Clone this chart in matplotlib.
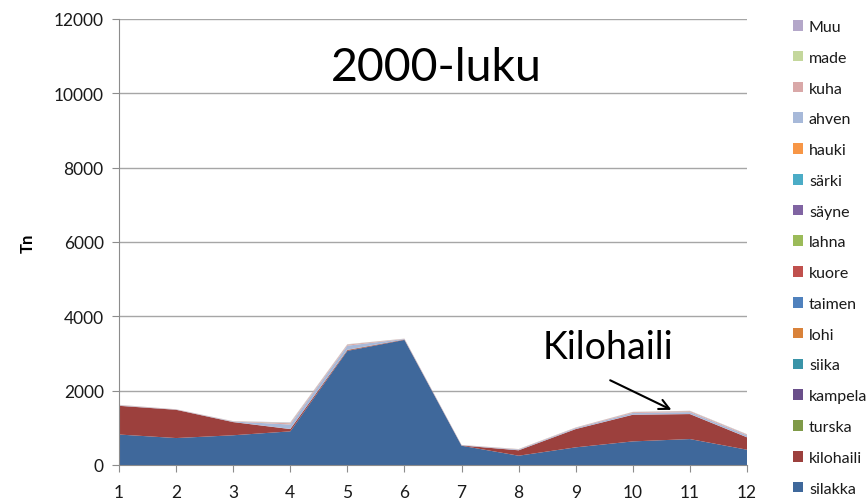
import matplotlib
matplotlib.use("Agg")
import matplotlib.pyplot as plt
from matplotlib.patches import Patch

plt.rcParams['font.family'] = ['Lato', 'DejaVu Sans']

months = [1, 2, 3, 4, 5, 6, 7, 8, 9, 10, 11, 12]
species = ["silakka", "kilohaili", "turska", "kampela", "siika", "lohi", "taimen",
           "kuore", "lahna", "säyne", "särki", "hauki", "ahven", "kuha", "made", "Muu"]
colors = ["#3f689b", "#9c403d", "#7f9a48", "#6a4f8a", "#3a94a8", "#d9823a", "#4f81bd",
          "#c0504d", "#9bbb59", "#8064a2", "#4bacc6", "#f79646", "#a7b9d9", "#d9a8a8",
          "#c4d79c", "#b4a7c9"]

silakka = [820, 725, 800, 905, 3070, 3365, 519, 250, 475, 635, 698, 411]
kilohaili = [772, 760, 354, 61, 20, 10, 6, 145, 491, 716, 671, 333]
turska = [0, 0, 0, 0, 5, 0, 0, 0, 0, 0, 0, 0]
kampela = [0] * 12
siika = [0] * 12
lohi = [0] * 12
taimen = [0] * 12
kuore = [3, 2, 2, 3, 5, 2, 1, 2, 3, 4, 4, 3]
lahna = [0] * 12
sayne = [0] * 12
sarki = [0] * 12
hauki = [0] * 12
ahven = [12, 6, 14, 120, 110, 13, 8, 20, 24, 45, 50, 50]
kuha = [8, 4, 6, 35, 30, 6, 4, 10, 12, 22, 25, 22]
made = [2, 1, 2, 10, 5, 2, 1, 2, 2, 4, 5, 4]
muu = [3, 2, 2, 12, 5, 2, 1, 1, 3, 4, 6, 7]

series = [silakka, kilohaili, turska, kampela, siika, lohi, taimen, kuore, lahna,
          sayne, sarki, hauki, ahven, kuha, made, muu]

fig = plt.figure(figsize=(8.68, 5.02), dpi=100)
ax = fig.add_axes([119 / 868, 1 - 466 / 502, (747 - 119) / 868, (466 - 20) / 502])

ax.stackplot(months, *series, colors=colors, labels=species, linewidth=0)

ax.set_xlim(1, 12)
ax.set_ylim(0, 12000)
ax.set_xticks(months)
ax.set_yticks(range(0, 12001, 2000))
ax.yaxis.grid(True, color="#a6a6a6", linewidth=1)
ax.set_axisbelow(True)
for s in ["top", "right"]:
    ax.spines[s].set_visible(False)
for s in ["left", "bottom"]:
    ax.spines[s].set_color("#8c8c8c")
ax.tick_params(axis="both", colors="#8c8c8c", labelcolor="#1a1a1a", labelsize=12.5,
               length=5, direction="out")
ax.tick_params(axis="x", pad=9)
ax.tick_params(axis="y", pad=6)
ax.set_ylabel("Tn", fontsize=12, fontweight="bold", labelpad=13)

ax.text(6.56, 10720, "2000-luku", fontsize=33.5, ha="center", va="center", color="#000000")
ax.text(9.57, 3180, "Kilohaili", fontsize=27, ha="center", va="center", color="#000000")
ax.annotate("", xy=(10.72, 1452), xytext=(9.56, 2312),
            arrowprops=dict(arrowstyle="->", color="black", lw=1.5, mutation_scale=18))

handles = [Patch(facecolor=c, edgecolor="none") for c in colors]
leg = fig.legend(handles[::-1], species[::-1], loc="upper left",
                 bbox_to_anchor=(793 / 868, 1 - 21 / 502), frameon=False,
                 fontsize=11.5, labelspacing=1.05, handlelength=0.65, handleheight=0.65,
                 handletextpad=0.35, borderaxespad=0, borderpad=0)
for t in leg.get_texts():
    t.set_color("#1a1a1a")

fig.savefig("out.png", dpi=100)
